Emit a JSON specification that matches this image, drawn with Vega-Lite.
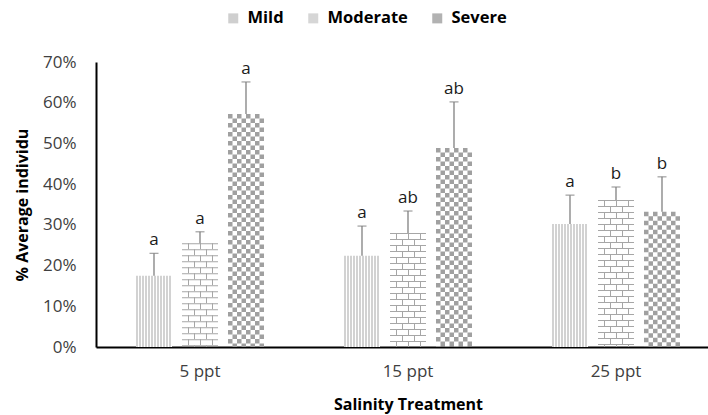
{
  "$schema": "https://vega.github.io/schema/vega-lite/v6.json",
  "width": 612,
  "height": 285,
  "autosize": "none",
  "padding": {"left": 96, "top": 62, "right": 0, "bottom": 68},
  "data": {
    "values": [
      {"salinity": "5 ppt", "severity": "Mild", "value": 0.175, "upper": 0.230, "letter": "a"},
      {"salinity": "5 ppt", "severity": "Moderate", "value": 0.255, "upper": 0.283, "letter": "a"},
      {"salinity": "5 ppt", "severity": "Severe", "value": 0.572, "upper": 0.651, "letter": "a"},
      {"salinity": "15 ppt", "severity": "Mild", "value": 0.224, "upper": 0.297, "letter": "a"},
      {"salinity": "15 ppt", "severity": "Moderate", "value": 0.280, "upper": 0.334, "letter": "ab"},
      {"salinity": "15 ppt", "severity": "Severe", "value": 0.489, "upper": 0.602, "letter": "ab"},
      {"salinity": "25 ppt", "severity": "Mild", "value": 0.302, "upper": 0.373, "letter": "a"},
      {"salinity": "25 ppt", "severity": "Moderate", "value": 0.361, "upper": 0.393, "letter": "b"},
      {"salinity": "25 ppt", "severity": "Severe", "value": 0.332, "upper": 0.418, "letter": "b"}
    ]
  },
  "encoding": {
    "x": {
      "field": "salinity", "type": "nominal", "sort": ["5 ppt", "15 ppt", "25 ppt"],
      "scale": {"range": [0, 624], "paddingInner": 0, "paddingOuter": 0},
      "axis": {
        "title": "Salinity Treatment", "titleFont": "Open Sans", "titleFontSize": 16, "titleFontWeight": "bold",
        "titleColor": "#000000", "titlePadding": 17, "titleX": 312,
        "labelFont": "Open Sans", "labelFontSize": 17, "labelColor": "#404040", "labelAngle": 0, "labelPadding": 16,
        "ticks": false, "domainColor": "#000000", "domainWidth": 2
      }
    },
    "y": {
      "field": "value", "type": "quantitative", "title": "% Average individu",
      "scale": {"domain": [0, 0.7], "nice": false},
      "axis": {
        "titleFont": "Open Sans", "titleFontSize": 16, "titleFontWeight": "bold",
        "titleColor": "#000000", "titlePadding": 12,
        "values": [0, 0.1, 0.2, 0.3, 0.4, 0.5, 0.6, 0.7], "format": ".0%",
        "labelFont": "Open Sans", "labelFontSize": 17, "labelColor": "#404040", "labelPadding": 20,
        "ticks": false, "grid": false, "domainColor": "#000000", "domainWidth": 2
      }
    }
  },
  "layer": [
    {
      "mark": {"type": "bar", "width": 36, "opacity": 0},
      "encoding": {
        "color": {
          "field": "severity", "type": "nominal",
          "scale": {"domain": ["Mild", "Moderate", "Severe"], "range": ["#cfcfcf", "#d6d6d6", "#b2b2b2"]},
          "legend": {
            "orient": "none", "legendX": 129, "legendY": -52, "direction": "horizontal", "title": null,
            "symbolType": "square", "symbolSize": 100, "symbolOpacity": 1, "symbolStrokeWidth": 0,
            "labelFont": "Open Sans", "labelFontSize": 16.5, "labelFontWeight": "bold", "labelColor": "#000000",
            "labelOffset": 6, "columnPadding": 21
          }
        }
      }
    },
    {
      "transform": [{"filter": "datum.severity === 'Mild'"}],
      "mark": {
        "type": "bar", "width": 36, "xOffset": -46,
        "fill": {
          "gradient": "linear", "x1": 0, "y1": 0, "x2": 1, "y2": 0,
          "stops": [
            {"offset": 0, "color": "#d2d2d2"}, {"offset": 0.05556, "color": "#d2d2d2"}, {"offset": 0.05556, "color": "#ffffff"}, {"offset": 0.08333, "color": "#ffffff"},
            {"offset": 0.08333, "color": "#d2d2d2"}, {"offset": 0.13889, "color": "#d2d2d2"}, {"offset": 0.13889, "color": "#ffffff"}, {"offset": 0.16667, "color": "#ffffff"},
            {"offset": 0.16667, "color": "#d2d2d2"}, {"offset": 0.22222, "color": "#d2d2d2"}, {"offset": 0.22222, "color": "#ffffff"}, {"offset": 0.25, "color": "#ffffff"},
            {"offset": 0.25, "color": "#d2d2d2"}, {"offset": 0.30556, "color": "#d2d2d2"}, {"offset": 0.30556, "color": "#ffffff"}, {"offset": 0.33333, "color": "#ffffff"},
            {"offset": 0.33333, "color": "#d2d2d2"}, {"offset": 0.38889, "color": "#d2d2d2"}, {"offset": 0.38889, "color": "#ffffff"}, {"offset": 0.41667, "color": "#ffffff"},
            {"offset": 0.41667, "color": "#d2d2d2"}, {"offset": 0.47222, "color": "#d2d2d2"}, {"offset": 0.47222, "color": "#ffffff"}, {"offset": 0.5, "color": "#ffffff"},
            {"offset": 0.5, "color": "#d2d2d2"}, {"offset": 0.55556, "color": "#d2d2d2"}, {"offset": 0.55556, "color": "#ffffff"}, {"offset": 0.58333, "color": "#ffffff"},
            {"offset": 0.58333, "color": "#d2d2d2"}, {"offset": 0.63889, "color": "#d2d2d2"}, {"offset": 0.63889, "color": "#ffffff"}, {"offset": 0.66667, "color": "#ffffff"},
            {"offset": 0.66667, "color": "#d2d2d2"}, {"offset": 0.72222, "color": "#d2d2d2"}, {"offset": 0.72222, "color": "#ffffff"}, {"offset": 0.75, "color": "#ffffff"},
            {"offset": 0.75, "color": "#d2d2d2"}, {"offset": 0.80556, "color": "#d2d2d2"}, {"offset": 0.80556, "color": "#ffffff"}, {"offset": 0.83333, "color": "#ffffff"},
            {"offset": 0.83333, "color": "#d2d2d2"}, {"offset": 0.88889, "color": "#d2d2d2"}, {"offset": 0.88889, "color": "#ffffff"}, {"offset": 0.91667, "color": "#ffffff"},
            {"offset": 0.91667, "color": "#d2d2d2"}, {"offset": 0.97222, "color": "#d2d2d2"}, {"offset": 0.97222, "color": "#ffffff"}, {"offset": 1, "color": "#ffffff"}
          ]
        }
      }
    },
    {
      "transform": [{"filter": "datum.severity === 'Moderate'"}],
      "mark": {"type": "rule", "xOffset": 0, "strokeWidth": 36, "strokeDash": [1, 5], "color": "#a6a6a6"},
      "encoding": {"y2": {"datum": 0}}
    },
    {
      "transform": [{"filter": "datum.severity === 'Moderate'"}],
      "mark": {"type": "rule", "xOffset": -11.5, "strokeWidth": 1, "strokeDash": [6, 6], "strokeDashOffset": 0, "color": "#a6a6a6"},
      "encoding": {"y2": {"datum": 0}}
    },
    {
      "transform": [{"filter": "datum.severity === 'Moderate'"}],
      "mark": {"type": "rule", "xOffset": 0.5, "strokeWidth": 1, "strokeDash": [6, 6], "strokeDashOffset": 0, "color": "#a6a6a6"},
      "encoding": {"y2": {"datum": 0}}
    },
    {
      "transform": [{"filter": "datum.severity === 'Moderate'"}],
      "mark": {"type": "rule", "xOffset": 12.5, "strokeWidth": 1, "strokeDash": [6, 6], "strokeDashOffset": 0, "color": "#a6a6a6"},
      "encoding": {"y2": {"datum": 0}}
    },
    {
      "transform": [{"filter": "datum.severity === 'Moderate'"}],
      "mark": {"type": "rule", "xOffset": -5.5, "strokeWidth": 1, "strokeDash": [6, 6], "strokeDashOffset": 6, "color": "#a6a6a6"},
      "encoding": {"y2": {"datum": 0}}
    },
    {
      "transform": [{"filter": "datum.severity === 'Moderate'"}],
      "mark": {"type": "rule", "xOffset": 6.5, "strokeWidth": 1, "strokeDash": [6, 6], "strokeDashOffset": 6, "color": "#a6a6a6"},
      "encoding": {"y2": {"datum": 0}}
    },
    {
      "transform": [{"filter": "datum.severity === 'Severe'"}],
      "mark": {"type": "rule", "xOffset": 30.25, "strokeWidth": 4.5, "strokeDash": [4.5, 4.5], "strokeDashOffset": 0, "color": "#a0a0a0"},
      "encoding": {"y2": {"datum": 0}}
    },
    {
      "transform": [{"filter": "datum.severity === 'Severe'"}],
      "mark": {"type": "rule", "xOffset": 34.75, "strokeWidth": 4.5, "strokeDash": [4.5, 4.5], "strokeDashOffset": 4.5, "color": "#a0a0a0"},
      "encoding": {"y2": {"datum": 0}}
    },
    {
      "transform": [{"filter": "datum.severity === 'Severe'"}],
      "mark": {"type": "rule", "xOffset": 39.25, "strokeWidth": 4.5, "strokeDash": [4.5, 4.5], "strokeDashOffset": 0, "color": "#a0a0a0"},
      "encoding": {"y2": {"datum": 0}}
    },
    {
      "transform": [{"filter": "datum.severity === 'Severe'"}],
      "mark": {"type": "rule", "xOffset": 43.75, "strokeWidth": 4.5, "strokeDash": [4.5, 4.5], "strokeDashOffset": 4.5, "color": "#a0a0a0"},
      "encoding": {"y2": {"datum": 0}}
    },
    {
      "transform": [{"filter": "datum.severity === 'Severe'"}],
      "mark": {"type": "rule", "xOffset": 48.25, "strokeWidth": 4.5, "strokeDash": [4.5, 4.5], "strokeDashOffset": 0, "color": "#a0a0a0"},
      "encoding": {"y2": {"datum": 0}}
    },
    {
      "transform": [{"filter": "datum.severity === 'Severe'"}],
      "mark": {"type": "rule", "xOffset": 52.75, "strokeWidth": 4.5, "strokeDash": [4.5, 4.5], "strokeDashOffset": 4.5, "color": "#a0a0a0"},
      "encoding": {"y2": {"datum": 0}}
    },
    {
      "transform": [{"filter": "datum.severity === 'Severe'"}],
      "mark": {"type": "rule", "xOffset": 57.25, "strokeWidth": 4.5, "strokeDash": [4.5, 4.5], "strokeDashOffset": 0, "color": "#a0a0a0"},
      "encoding": {"y2": {"datum": 0}}
    },
    {
      "transform": [{"filter": "datum.severity === 'Severe'"}],
      "mark": {"type": "rule", "xOffset": 61.75, "strokeWidth": 4.5, "strokeDash": [4.5, 4.5], "strokeDashOffset": 4.5, "color": "#a0a0a0"},
      "encoding": {"y2": {"datum": 0}}
    },
    {
      "transform": [{"filter": "datum.severity === 'Mild'"}],
      "mark": {"type": "rule", "xOffset": -46, "strokeWidth": 1.3, "color": "#808080"},
      "encoding": {"y2": {"field": "upper"}}
    },
    {
      "transform": [{"filter": "datum.severity === 'Moderate'"}],
      "mark": {"type": "rule", "xOffset": 0, "strokeWidth": 1.3, "color": "#808080"},
      "encoding": {"y2": {"field": "upper"}}
    },
    {
      "transform": [{"filter": "datum.severity === 'Severe'"}],
      "mark": {"type": "rule", "xOffset": 46, "strokeWidth": 1.3, "color": "#808080"},
      "encoding": {"y2": {"field": "upper"}}
    },
    {
      "transform": [{"filter": "datum.severity === 'Mild'"}],
      "mark": {"type": "tick", "xOffset": -46, "size": 9, "thickness": 1.3, "color": "#808080", "orient": "horizontal"},
      "encoding": {"y": {"field": "upper", "type": "quantitative", "title": "% Average individu"}}
    },
    {
      "transform": [{"filter": "datum.severity === 'Moderate'"}],
      "mark": {"type": "tick", "xOffset": 0, "size": 9, "thickness": 1.3, "color": "#808080", "orient": "horizontal"},
      "encoding": {"y": {"field": "upper", "type": "quantitative", "title": "% Average individu"}}
    },
    {
      "transform": [{"filter": "datum.severity === 'Severe'"}],
      "mark": {"type": "tick", "xOffset": 46, "size": 9, "thickness": 1.3, "color": "#808080", "orient": "horizontal"},
      "encoding": {"y": {"field": "upper", "type": "quantitative", "title": "% Average individu"}}
    },
    {
      "transform": [{"filter": "datum.severity === 'Mild'"}],
      "mark": {"type": "text", "xOffset": -46, "dy": -8, "baseline": "alphabetic", "align": "center", "font": "Open Sans", "fontSize": 17, "color": "#1a1a1a"},
      "encoding": {"y": {"field": "upper", "type": "quantitative", "title": "% Average individu"}, "text": {"field": "letter"}}
    },
    {
      "transform": [{"filter": "datum.severity === 'Moderate'"}],
      "mark": {"type": "text", "xOffset": 0, "dy": -8, "baseline": "alphabetic", "align": "center", "font": "Open Sans", "fontSize": 17, "color": "#1a1a1a"},
      "encoding": {"y": {"field": "upper", "type": "quantitative", "title": "% Average individu"}, "text": {"field": "letter"}}
    },
    {
      "transform": [{"filter": "datum.severity === 'Severe'"}],
      "mark": {"type": "text", "xOffset": 46, "dy": -8, "baseline": "alphabetic", "align": "center", "font": "Open Sans", "fontSize": 17, "color": "#1a1a1a"},
      "encoding": {"y": {"field": "upper", "type": "quantitative", "title": "% Average individu"}, "text": {"field": "letter"}}
    }
  ],
  "config": {"view": {"stroke": null}, "font": "Open Sans"}
}
